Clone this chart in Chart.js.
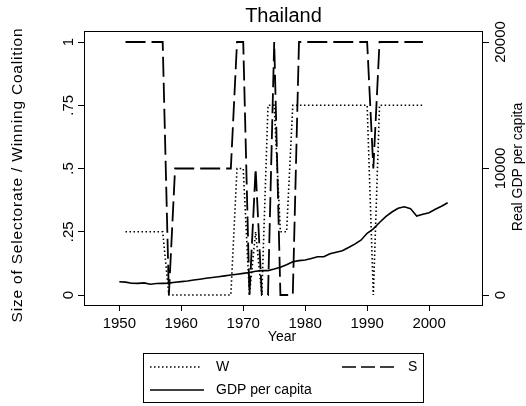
<!DOCTYPE html>
<html>
<head>
<meta charset="utf-8">
<script src="https://cdn.jsdelivr.net/npm/chart.js@4/dist/chart.umd.min.js"></script>
<style>
  html, body { margin: 0; padding: 0; background: #fff; }
  #wrap { width: 526px; height: 406px; }
</style>
</head>
<body>
<div id="wrap"><canvas id="chart" width="526" height="406"></canvas></div>
<script>
// --- data ---
const gdpYears = [1950,1951,1952,1953,1954,1955,1956,1957,1958,1959,1960,1961,1962,1963,1964,1965,1966,1967,1968,1969,
                  1970,1971,1972,1973,1974,1975,1976,1977,1978,1979,1980,1981,1982,1983,1984,1985,1986,1987,1988,1989,
                  1990,1991,1992,1993,1994,1995,1996,1997,1998,1999,2000,2001,2002,2003];
const gdp = [1050,1020,930,920,960,850,910,920,940,1010,1060,1110,1180,1250,1320,1380,1440,1510,1580,1640,
             1710,1780,1880,1930,1930,2050,2190,2400,2630,2720,2770,2890,3020,3020,3260,3380,3500,3750,4020,4330,
             4880,5230,5730,6200,6560,6860,6970,6830,6240,6380,6500,6780,7020,7290];

const wsYears = [1951,1952,1953,1954,1955,1956,1957,1958,1959,1960,1961,1962,1963,1964,1965,1966,1967,1968,1969,
                 1970,1971,1972,1973,1974,1975,1976,1977,1978,1979,1980,1981,1982,1983,1984,1985,1986,1987,1988,1989,
                 1990,1991,1992,1993,1994,1995,1996,1997,1998,1999];
const W = [0.25,0.25,0.25,0.25,0.25,0.25,0.25,0,0,0,0,0,0,0,0,0,0,0,0.5,
           0.5,0,0.25,0,0.75,0.75,0.25,0.25,0.75,0.75,0.75,0.75,0.75,0.75,0.75,0.75,0.75,0.75,0.75,0.75,
           0.75,0,0.75,0.75,0.75,0.75,0.75,0.75,0.75,0.75];
const S = [1,1,1,1,1,1,1,0,0.5,0.5,0.5,0.5,0.5,0.5,0.5,0.5,0.5,0.5,1,
           1,0,0.5,0,0,1,0,0,0,1,1,1,1,1,1,1,1,1,1,1,
           1,0.5,1,1,1,1,1,1,1,1];

const xTicks = [1950, 1960, 1970, 1980, 1990, 2000];
const leftTicks = [0, 0.25, 0.5, 0.75, 1];
const leftTickLabels = ['0', '.25', '.5', '.75', '1'];
const rightTicks = [0, 10000, 20000];

const FONT = '"Liberation Sans", Arial, sans-serif';

function pts(xs, ys) {
  return xs.map((x, i) => ({ x: x, y: ys[i] }));
}

// frame, rotated labels, titles and legend box
const decor = {
  id: 'decor',
  afterDraw(chart) {
    const ctx = chart.ctx;
    const a = chart.chartArea;
    const yL = chart.scales.y;
    const yR = chart.scales.y2;
    ctx.save();
    ctx.strokeStyle = '#000';
    ctx.lineWidth = 1;
    ctx.strokeRect(a.left + 0.5, a.top + 0.5, a.right - a.left - 1, a.bottom - a.top);

    ctx.fillStyle = '#000';
    ctx.textAlign = 'center';
    ctx.textBaseline = 'middle';

    ctx.font = '20px ' + FONT;
    ctx.fillText('Thailand', (a.left + a.right) / 2, 16);

    function vtext(txt, x, y, font, spacing) {
      ctx.save();
      ctx.translate(x, y);
      ctx.rotate(-Math.PI / 2);
      ctx.font = font;
      ctx.letterSpacing = spacing || '0px';
      ctx.fillText(txt, 0, 0);
      ctx.restore();
    }
    leftTicks.forEach((v, i) => vtext(leftTickLabels[i], 69, yL.getPixelForValue(v), '15px ' + FONT));
    rightTicks.forEach(v => vtext(String(v), 501, yR.getPixelForValue(v), '15px ' + FONT));
    vtext('Size of Selectorate / Winning Coalition', 18, 175, '15.5px ' + FONT, '0.8px');
    vtext('Real GDP per capita', 518, 167, '14px ' + FONT);

    ctx.font = '14px ' + FONT;
    ctx.fillText('Year', 282, 337);

    // legend
    ctx.lineWidth = 1;
    ctx.strokeRect(143.5, 353.5, 280, 49);
    function sample(x1, x2, y, dash) {
      ctx.save();
      ctx.lineWidth = 1.6;
      ctx.setLineDash(dash);
      ctx.beginPath();
      ctx.moveTo(x1, y);
      ctx.lineTo(x2, y);
      ctx.stroke();
      ctx.restore();
    }
    sample(150, 200, 367, [1.5, 2.5]);
    sample(342, 395, 367, [14, 5]);
    sample(150, 204, 390, []);
    ctx.textAlign = 'left';
    ctx.fillText('W', 216, 367);
    ctx.fillText('S', 408, 367);
    ctx.fillText('GDP per capita', 216, 390);
    ctx.restore();
  }
};

new Chart(document.getElementById('chart'), {
  type: 'line',
  data: {
    datasets: [
      { label: 'W', data: pts(wsYears, W), yAxisID: 'y', borderColor: '#000', borderWidth: 1.6,
        borderDash: [1.5, 2.5], pointRadius: 0, tension: 0, fill: false },
      { label: 'S', data: pts(wsYears, S), yAxisID: 'y', borderColor: '#000', borderWidth: 1.8,
        borderDash: [20, 6], pointRadius: 0, tension: 0, fill: false },
      { label: 'GDP per capita', data: pts(gdpYears, gdp), yAxisID: 'y2', borderColor: '#000', borderWidth: 1.6,
        pointRadius: 0, tension: 0, fill: false }
    ]
  },
  options: {
    responsive: false,
    animation: false,
    devicePixelRatio: 1,
    layout: { padding: { top: 31, left: 0, right: 0, bottom: 0 } },
    plugins: { legend: { display: false }, title: { display: false }, tooltip: { enabled: false } },
    scales: {
      x: {
        type: 'linear', min: 1944.3, max: 2008.7,
        afterBuildTicks: s => { s.ticks = xTicks.map(v => ({ value: v })); },
        afterFit: s => { s.height = 101; },
        grid: { drawOnChartArea: false, drawTicks: true, tickLength: 6, color: '#000', lineWidth: 1 },
        border: { display: false },
        ticks: { color: '#000', font: { family: FONT, size: 15 }, padding: 4, maxRotation: 0, callback: v => String(v) }
      },
      y: {
        position: 'left', min: -0.0395, max: 1.0435,
        afterBuildTicks: s => { s.ticks = leftTicks.map(v => ({ value: v })); },
        afterFit: s => { s.width = 84; },
        grid: { drawOnChartArea: false, drawTicks: true, tickLength: 6, color: '#000', lineWidth: 1 },
        border: { display: false },
        ticks: { display: false }
      },
      y2: {
        position: 'right', min: -790, max: 20870,
        afterBuildTicks: s => { s.ticks = rightTicks.map(v => ({ value: v })); },
        afterFit: s => { s.width = 43; },
        grid: { drawOnChartArea: false, drawTicks: true, tickLength: 6, color: '#000', lineWidth: 1 },
        border: { display: false },
        ticks: { display: false }
      }
    }
  },
  plugins: [decor]
});
</script>
</body>
</html>
